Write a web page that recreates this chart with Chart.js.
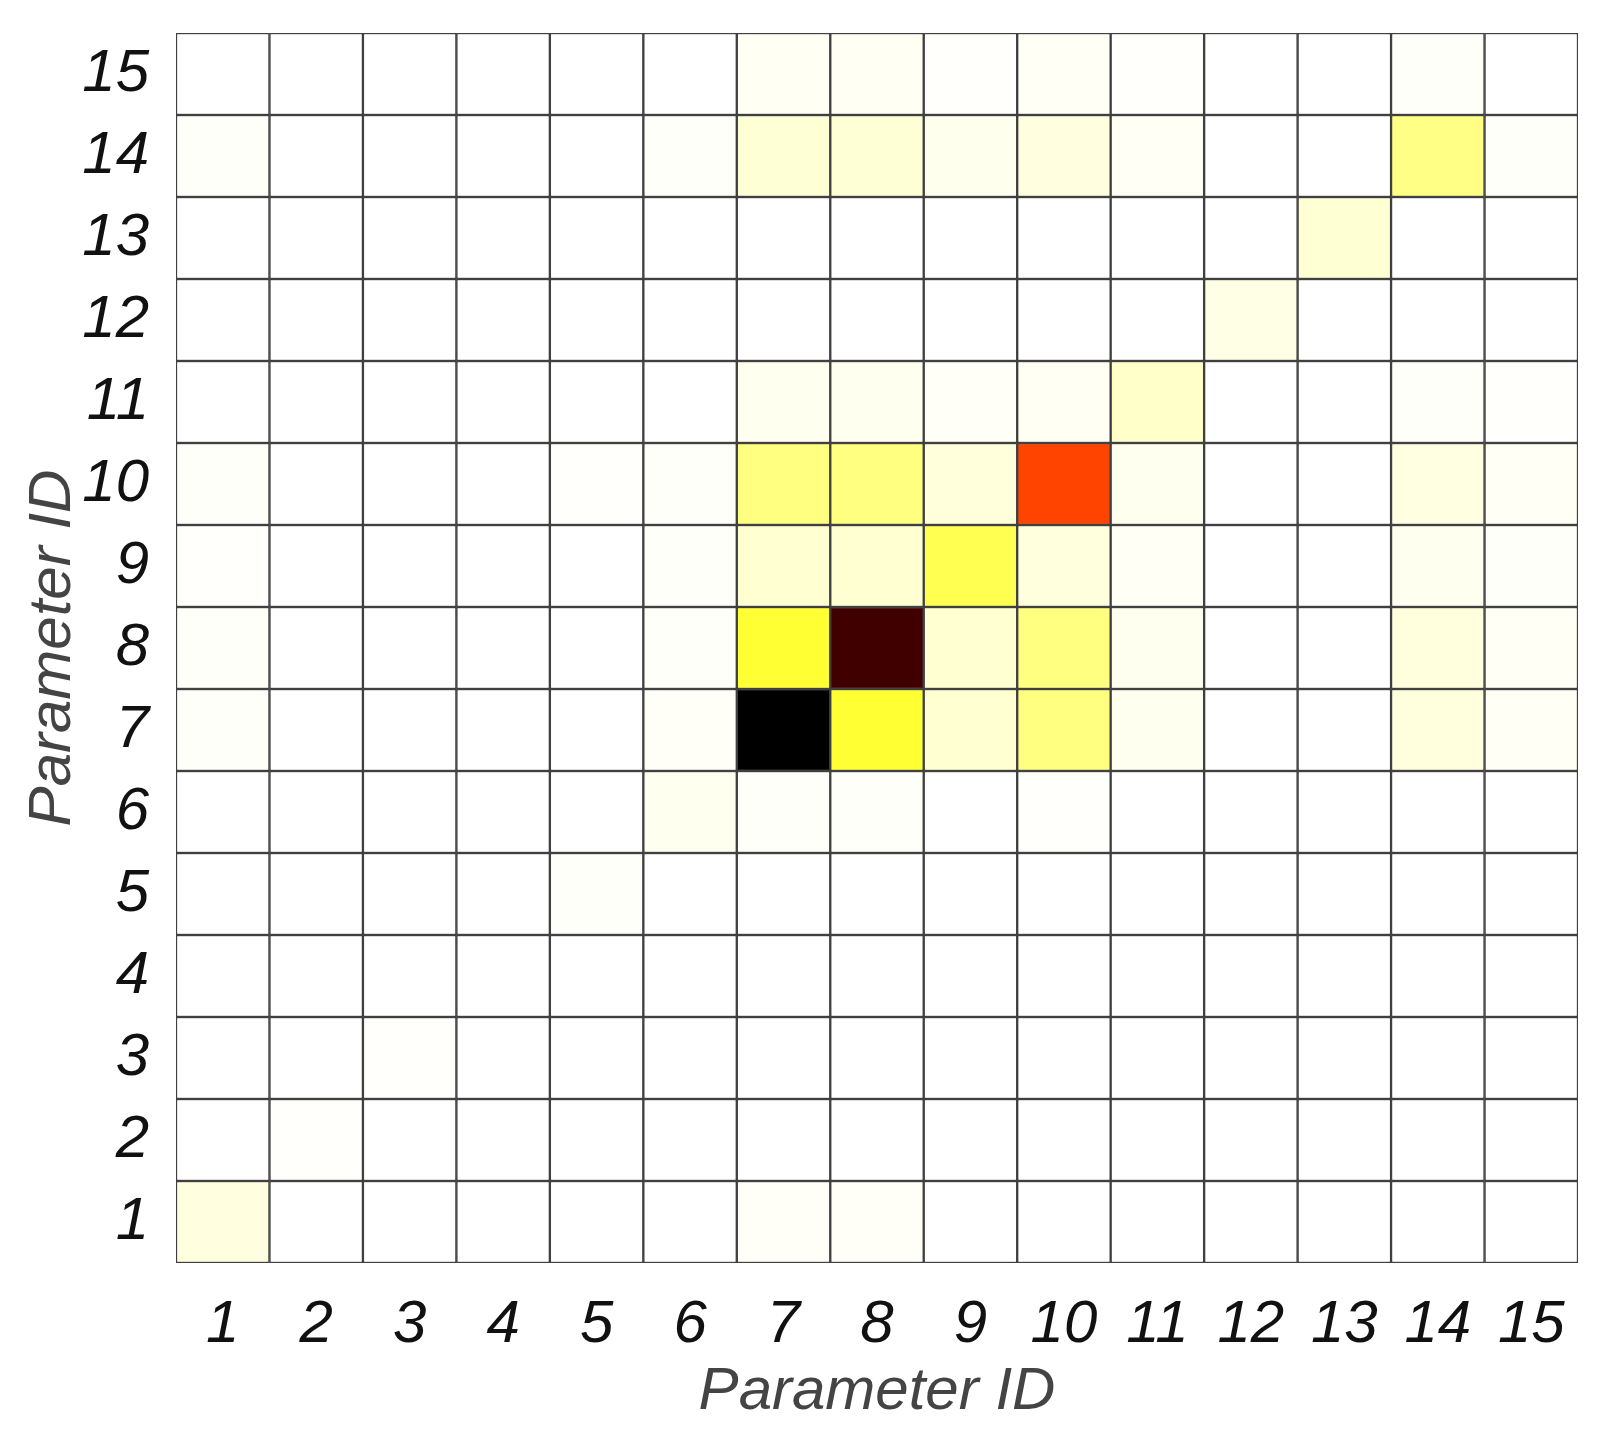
<!DOCTYPE html>
<html>
<head>
<meta charset="utf-8">
<script src="https://cdn.jsdelivr.net/npm/chart.js@4/dist/chart.umd.min.js"></script>
<style>
  html, body { margin:0; padding:0; background:#fff; }
  #wrap { width:1607px; height:1443px; }
</style>
</head>
<body>
<div id="wrap"><canvas id="c" width="1607" height="1443"></canvas></div>
<script>
// parameter ids on both axes
const paramIds = [1,2,3,4,5,6,7,8,9,10,11,12,13,14,15];

// cell values per row (row = y parameter id), columns = x parameter id 1..15
const row1  = [0.030,0,0,0,0,0,0.008,0.008,0,0,0,0,0,0,0];
const row2  = [0,0.003,0,0,0,0,0,0,0,0,0,0,0,0,0];
const row3  = [0,0,0.003,0,0,0,0,0,0,0,0,0,0,0,0];
const row4  = [0,0,0,0,0,0,0,0,0,0,0,0,0,0,0];
const row5  = [0,0,0,0,0.005,0,0,0,0,0,0,0,0,0,0];
const row6  = [0,0,0,0,0,0.015,0.006,0.006,0,0.004,0,0,0,0,0];
const row7  = [0.006,0,0,0,0,0.007,1.000,0.200,0.045,0.125,0.015,0,0,0.033,0.010];
const row8  = [0.006,0,0,0,0,0.006,0.200,0.905,0.045,0.125,0.015,0,0,0.033,0.010];
const row9  = [0.004,0,0,0,0,0.005,0.045,0.045,0.170,0.033,0.010,0,0,0.015,0.006];
const row10 = [0.005,0,0,0,0.004,0.005,0.125,0.125,0.035,0.525,0.015,0,0,0.028,0.010];
const row11 = [0,0,0,0,0,0,0.015,0.015,0.008,0.012,0.052,0,0,0.005,0.004];
const row12 = [0,0,0,0,0,0,0,0,0,0,0,0.025,0,0,0];
const row13 = [0,0,0,0,0,0,0,0,0,0,0,0,0.042,0,0];
const row14 = [0.005,0,0,0,0,0.005,0.040,0.040,0.018,0.030,0.010,0,0,0.120,0.005];
const row15 = [0,0,0,0,0,0,0.012,0.012,0.003,0.010,0.004,0,0,0.005,0];

const rows = [row1,row2,row3,row4,row5,row6,row7,row8,row9,row10,row11,row12,row13,row14,row15];

// reversed "hot" colormap: 0 -> white, 1 -> black
function hotR(v) {
  const x = 1 - Math.max(0, Math.min(1, v));
  const r = Math.min(1, x / 0.375);
  const g = Math.max(0, Math.min(1, (x - 0.375) / 0.375));
  const b = Math.max(0, Math.min(1, (x - 0.75) / 0.25));
  return `rgb(${Math.round(r*255)},${Math.round(g*255)},${Math.round(b*255)})`;
}

const FONT = "'Liberation Sans', Arial, sans-serif";

const datasets = rows.map((vals, i) => ({
  label: 'row ' + paramIds[i],
  data: vals.map(() => [paramIds[i] - 0.5, paramIds[i] + 0.5]),
  backgroundColor: vals.map(hotR),
  borderColor: '#404040',
  borderWidth: 1.5,
  borderSkipped: false,
  grouped: false,
  barPercentage: 1,
  categoryPercentage: 1
}));

new Chart(document.getElementById('c'), {
  type: 'bar',
  data: { labels: paramIds.map(String), datasets },
  options: {
    responsive: false,
    animation: false,
    layout: { padding: { left: 0, top: 33, right: 29, bottom: 0 } },
    plugins: { legend: { display: false }, tooltip: { enabled: false } },
    scales: {
      x: {
        grid: { display: false },
        border: { display: false },
        ticks: { color: '#111', padding: 18, font: { family: FONT, size: 60, style: 'italic' } },
        title: { display: true, text: 'Parameter ID', color: '#444', padding: { top: 0, bottom: 15 },
                 font: { family: FONT, size: 60, style: 'italic' } },
        afterFit: s => { s.height = 180; }
      },
      y: {
        min: 0.5, max: 15.5,
        grid: { display: false },
        border: { display: false },
        afterBuildTicks: s => { s.ticks = paramIds.map(v => ({ value: v })); },
        ticks: { color: '#111', padding: 19, autoSkip: false,
                 font: { family: FONT, size: 60, style: 'italic', lineHeight: 0.5 } },
        title: { display: true, text: 'Parameter ID', color: '#444', padding: { top: 17, bottom: 0 },
                 font: { family: FONT, size: 60, style: 'italic' } },
        afterFit: s => { s.width = 176; s.paddingTop = 0; s.paddingBottom = 0; }
      }
    }
  }
});
</script>
</body>
</html>
